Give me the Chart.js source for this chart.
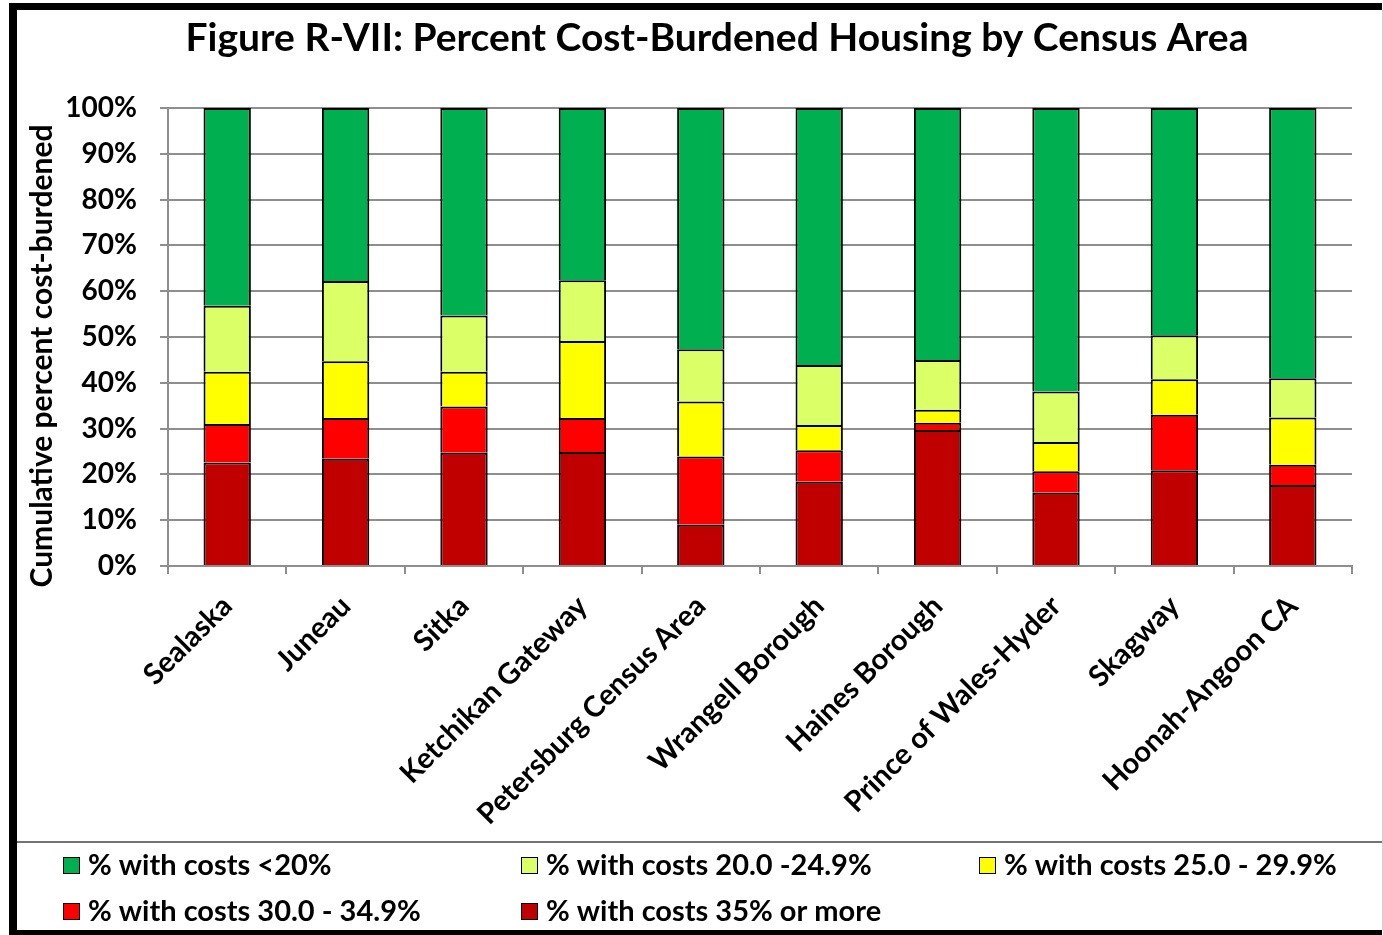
<!DOCTYPE html>
<html>
<head>
<meta charset="utf-8">
<script src="https://cdn.jsdelivr.net/npm/chart.js@4.4.1/dist/chart.umd.min.js"></script>
<style>
html,body{margin:0;padding:0;background:#fff;}
canvas{display:block;}
</style>
</head>
<body>
<canvas id="c" width="1383" height="935"></canvas>
<script>
// ---- data ----
const categories = ['Sealaska','Juneau','Sitka','Ketchikan Gateway','Petersburg Census Area','Wrangell Borough','Haines Borough','Prince of Wales-Hyder','Skagway','Hoonah-Angoon CA'];
const costs35plus  = [22.6, 23.4, 24.7, 24.9,  9.0, 18.4, 29.7, 16.0, 20.9, 17.7];
const costs30to35  = [ 8.4,  8.9, 10.1,  7.4, 14.9,  6.9,  1.6,  4.7, 12.1,  4.4];
const costs25to30  = [11.4, 12.4,  7.6, 16.8, 12.0,  5.5,  2.8,  6.4,  7.8, 10.3];
const costs20to25  = [14.4, 17.5, 12.3, 13.3, 11.4, 13.1, 10.9, 11.0,  9.6,  8.6];
const costsUnder20 = [43.2, 37.8, 45.3, 37.6, 52.7, 56.1, 55.0, 61.9, 49.6, 59.0];
const seriesLabels = ['% with costs 35% or more','% with costs 30.0 - 34.9%','% with costs 25.0 - 29.9%','% with costs 20.0 -24.9%','% with costs <20%'];
const seriesColors = ['#C00000','#FF0000','#FFFF00','#DBFF66','#00B050'];
const yTickValues = [0,10,20,30,40,50,60,70,80,90,100];
const titleText = 'Figure R-VII: Percent Cost-Burdened Housing by Census Area';
const yAxisTitle = 'Cumulative percent cost-burdened';

const FONT = 'Lato, "Open Sans", sans-serif';
const seriesData = [costs35plus, costs30to35, costs25to30, costs20to25, costsUnder20];

const datasets = seriesData.map((d,i)=>({
  label: seriesLabels[i],
  data: d,
  backgroundColor: seriesColors[i],
  borderColor: '#000',
  borderWidth: 2,
  barPercentage: 0.4,
  categoryPercentage: 1.0
}));

const framePlugin = {
  id: 'frame',
  beforeDraw(chart){
    const ctx = chart.ctx;
    ctx.save();
    ctx.fillStyle = '#fff';
    ctx.fillRect(0,0,chart.width,chart.height);
    ctx.restore();
  },
  afterDraw(chart){
    const ctx = chart.ctx;
    ctx.save();
    // title
    ctx.fillStyle = '#000';
    ctx.font = 'bold 39px ' + FONT;
    ctx.textAlign = 'center';
    ctx.textBaseline = 'middle';
    ctx.fillText(titleText, 717, 38);
    // y axis title
    ctx.save();
    ctx.translate(42, 356);
    ctx.rotate(-Math.PI/2);
    ctx.font = 'bold 30px ' + FONT;
    ctx.fillText(yAxisTitle, 0, 0);
    ctx.restore();
    // separator above legend
    ctx.strokeStyle = '#444';
    ctx.lineWidth = 1.5;
    ctx.beginPath(); ctx.moveTo(17, 842); ctx.lineTo(1382, 842); ctx.stroke();
    // outer frame
    ctx.fillStyle = '#000';
    ctx.fillRect(9, 3, 1373, 7);
    ctx.fillRect(9, 3, 8, 932);
    ctx.fillRect(9, 930, 1373, 5);
    ctx.strokeStyle = '#cfcfcf';
    ctx.lineWidth = 1;
    ctx.beginPath(); ctx.moveTo(1382.5, 10); ctx.lineTo(1382.5, 930); ctx.stroke();
    // legend (order: top series first)
    const items = chart.data.datasets.slice().reverse();
    const colX = [63, 521, 979];
    const rowY = [865, 911];
    ctx.font = 'bold 29px ' + FONT;
    ctx.textAlign = 'left';
    ctx.textBaseline = 'middle';
    items.forEach((ds, i)=>{
      const x = colX[i % 3], y = rowY[Math.floor(i / 3)];
      ctx.fillStyle = ds.backgroundColor;
      ctx.fillRect(x, y-8, 17, 17);
      ctx.strokeStyle = '#000';
      ctx.lineWidth = 1;
      ctx.strokeRect(x+0.5, y-7.5, 16, 16);
      ctx.fillStyle = '#000';
      ctx.fillText(ds.label, x + 25, y + 1);
    });
    ctx.restore();
  }
};

new Chart(document.getElementById('c'), {
  type: 'bar',
  data: { labels: categories, datasets: datasets },
  options: {
    responsive: false,
    animation: false,
    layout: { padding: { left: 20, right: 31, top: 108, bottom: 99 } },
    plugins: { legend: { display: false }, title: { display: false }, tooltip: { enabled: false } },
    scales: {
      x: {
        stacked: true,
        grid: { drawOnChartArea: false, color: '#8e8e8e', lineWidth: 2, tickLength: 8, offset: true },
        border: { color: '#8e8e8e', width: 2 },
        ticks: { color: '#000', font: { family: FONT, size: 29, weight: 'bold' }, minRotation: 45, maxRotation: 45, autoSkip: false, padding: 15 },
        afterFit(s){ s.height = 270; }
      },
      y: {
        stacked: true,
        min: 0, max: 100,
        afterBuildTicks(s){ s.ticks = yTickValues.map(v=>({value:v})); },
        grid: { color: '#8e8e8e', lineWidth: 2, tickLength: 8 },
        border: { color: '#8e8e8e', width: 2 },
        ticks: { color: '#000', font: { family: FONT, size: 28, weight: 'bold' }, padding: 23, callback: v => v + '%' },
        afterFit(s){ s.width = 148; }
      }
    }
  },
  plugins: [framePlugin]
});
</script>
</body>
</html>
